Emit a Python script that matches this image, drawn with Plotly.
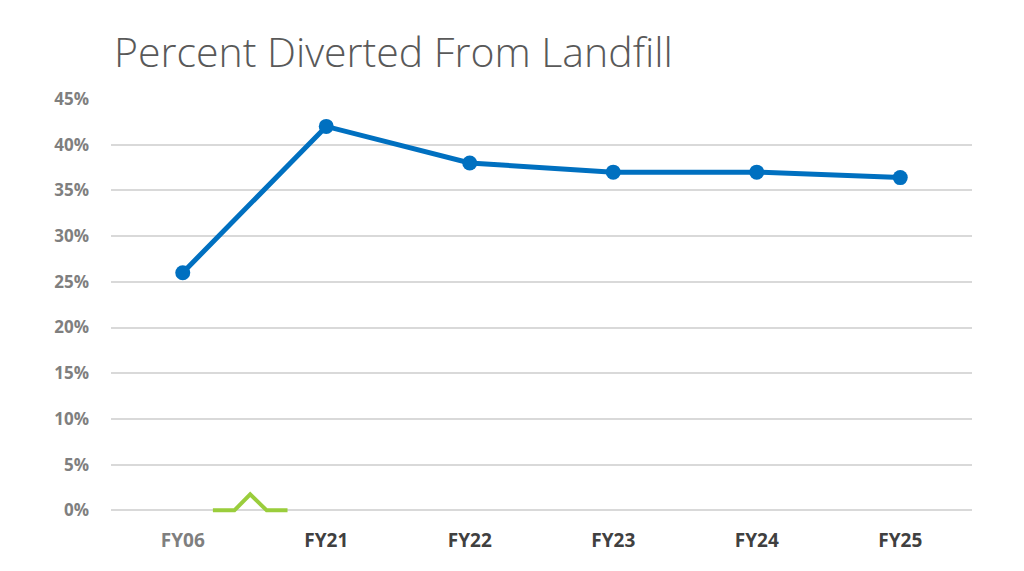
import plotly.graph_objects as go

categories = ["FY06", "FY21", "FY22", "FY23", "FY24", "FY25"]
diverted_pct = [26, 42, 38, 37, 37, 36.4]
tick_colors = ["#7f7f7f", "#404040", "#404040", "#404040", "#404040", "#404040"]
y_ticks = [0, 5, 10, 15, 20, 25, 30, 35, 40, 45]

# axis-break marker between FY06 and FY21 (in category-index units / percent)
break_x = [0.21, 0.36, 0.47, 0.585, 0.73]
break_y = [0, 0, 1.75, 0, 0]

x_idx = list(range(len(categories)))
ticktext = [f'<span style="color:{c}">{t}</span>' for t, c in zip(categories, tick_colors)]

fig = go.Figure()
fig.add_trace(go.Scatter(
    x=x_idx, y=diverted_pct, mode="lines+markers",
    line=dict(color="#0070C0", width=5),
    marker=dict(color="#0070C0", size=15),
    showlegend=False, cliponaxis=False,
))
fig.add_trace(go.Scatter(
    x=break_x, y=break_y, mode="lines",
    line=dict(color="#9ACD3C", width=4), hoverinfo="skip", showlegend=False,
    cliponaxis=False,
))

fig.update_layout(
    width=1024, height=571,
    margin=dict(l=111, r=52, t=99, b=57.3),
    paper_bgcolor="white", plot_bgcolor="white",
    title=dict(
        text="Percent Diverted From Landfill",
        x=114 / 1024, xanchor="left", xref="container",
        y=1 - 53 / 571, yanchor="middle", yref="container",
        font=dict(family="Open Sans", size=41, color="#595959", weight=300),
    ),
    xaxis=dict(
        range=[-0.5, 5.5], tickvals=x_idx, ticktext=ticktext,
        showgrid=False, zeroline=False, showline=False, ticks="",
        tickfont=dict(family="Open Sans", size=19, weight=700),
        ticklabelstandoff=13,
    ),
    yaxis=dict(
        range=[-0.4, 45], tickvals=y_ticks, ticktext=[f"{v}%" for v in y_ticks],
        showgrid=True, gridcolor="#d9d9d9", gridwidth=2,
        zeroline=False,
        showline=False, ticks="",
        tickfont=dict(family="Open Sans", size=17, color="#7f7f7f", weight=700),
        ticklabelstandoff=21,
    ),
)

fig.write_html("out.html")
